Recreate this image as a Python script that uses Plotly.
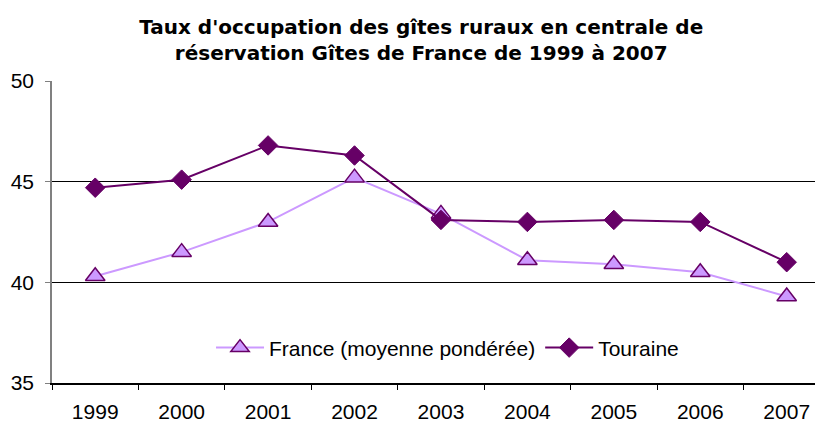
import plotly.graph_objects as go

years = ["1999", "2000", "2001", "2002", "2003", "2004", "2005", "2006", "2007"]
france = [40.3, 41.5, 43.0, 45.2, 43.4, 41.1, 40.9, 40.5, 39.3]
touraine = [44.7, 45.1, 46.8, 46.3, 43.1, 43.0, 43.1, 43.0, 41.0]
y_ticks = [35, 40, 45, 50]

FONT = "Liberation Sans"

fig = go.Figure()
fig.add_trace(go.Scatter(
    x=years, y=france, name="France (moyenne pondérée)", mode="lines+markers",
    line=dict(color="#CC99FF", width=2),
    marker=dict(symbol="triangle-up", size=17, color="#CC99FF",
                line=dict(color="#660066", width=1.5)),
))
fig.add_trace(go.Scatter(
    x=years, y=touraine, name="Touraine", mode="lines+markers",
    line=dict(color="#660066", width=2),
    marker=dict(symbol="diamond", size=15, color="#660066",
                line=dict(color="#660066", width=1)),
))

# page body has an 8px default margin: figure is sized to fill the rest
fig.update_layout(
    width=815, height=415,
    margin=dict(l=44, r=0, t=73, b=40),
    paper_bgcolor="white", plot_bgcolor="white",
    font=dict(family=FONT, size=21, color="black"),
    title=dict(
        text="<b>Taux d'occupation des gîtes ruraux en centrale de<br>réservation Gîtes de France de 1999 à 2007</b>",
        x=0.507, xref="container", xanchor="center",
        y=0.937, yref="container", yanchor="top",
        font=dict(family="DejaVu Sans", size=20, color="black"),
    ),
    showlegend=True,
    legend=dict(
        orientation="h", x=0.513, xanchor="center", y=0.116, yanchor="middle",
        bgcolor="rgba(0,0,0,0)", font=dict(size=21), traceorder="normal",
        itemwidth=48,
    ),
    xaxis=dict(
        type="category", range=[-0.5, 8.42], showgrid=False, automargin=False,
        showline=True, linecolor="black", linewidth=1.5,
        ticks="outside", ticklen=5, tickcolor="black", tickson="boundaries",
        tickfont=dict(size=21), ticklabelstandoff=9,
    ),
    yaxis=dict(
        range=[35, 50], tickvals=y_ticks, showgrid=True, gridcolor="black", gridwidth=1,
        showline=True, linecolor="#808080", linewidth=1.5, automargin=False,
        ticks="outside", ticklen=5, tickcolor="#808080",
        tickfont=dict(size=21), ticklabelstandoff=7, zeroline=False,
    ),
)

fig.write_html("out.html")
